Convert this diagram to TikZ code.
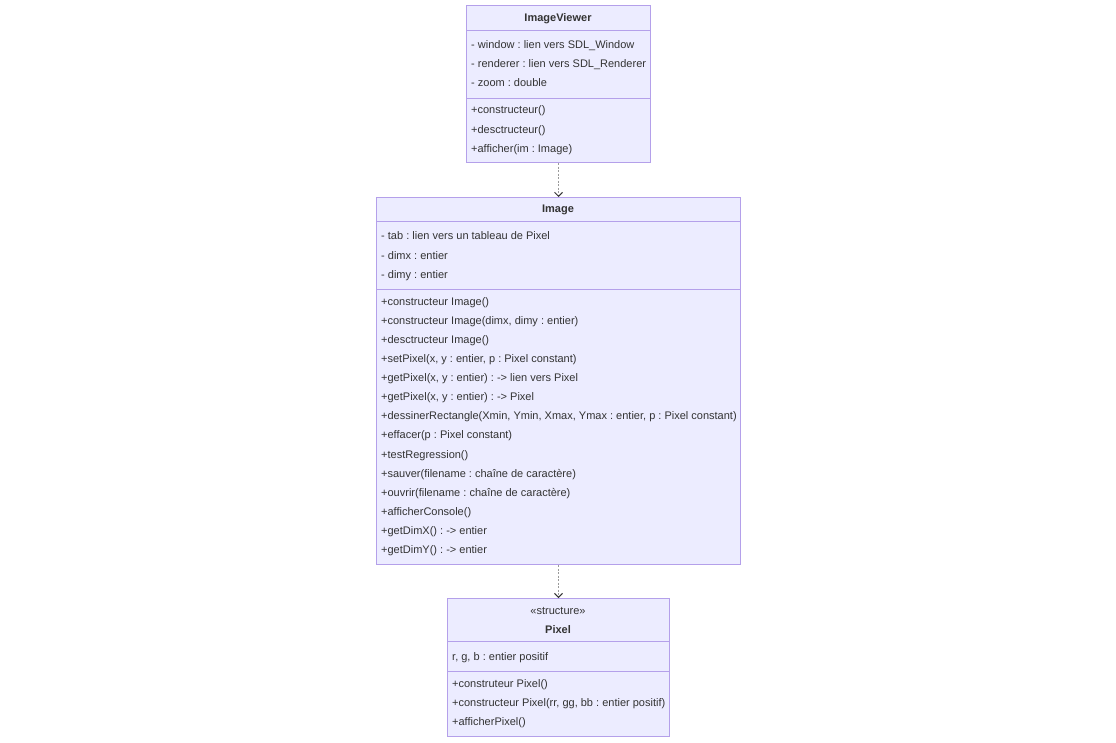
\documentclass[tikz,border=0pt]{standalone}
\usepackage{fontspec}
\setmainfont{Liberation Sans}
\frenchspacing
\usetikzlibrary{arrows.meta}
\definecolor{classfill}{HTML}{ECECFF}
\definecolor{classline}{HTML}{B4A0EA}
\definecolor{txt}{HTML}{333333}
\definecolor{depline}{HTML}{9A9A9A}
\begin{document}
\begin{tikzpicture}[x=1pt,y=-1pt,
  classbox/.style={draw=classline, fill=classfill, line width=1pt, inner sep=0pt, anchor=north west},
  sep/.style={draw=classline, line width=1pt},
  member/.style={anchor=base west, inner sep=0pt, font=\fontsize{11}{13}\selectfont, text=txt},
  title/.style={anchor=base, inner sep=0pt, font=\fontsize{11}{13}\selectfont\bfseries, text=txt},
  stereo/.style={anchor=base, inner sep=0pt, font=\fontsize{11}{13}\selectfont, text=txt},
  dep/.style={draw=depline, line width=1pt, dash pattern=on 2pt off 1.5pt,
    -{Straight Barb[length=4pt,width=8pt,line width=1pt,color=txt]}}]
\useasboundingbox (0,0) rectangle (1116,742);

% ---------- ImageViewer ----------
\node[classbox, minimum width=184pt, minimum height=157pt] (iv) at (466,5) {};
\draw[sep] (iv.west |- 0,30) -- (iv.east |- 0,30);
\draw[sep] (iv.west |- 0,98) -- (iv.east |- 0,98);
\node[title] (ivT) at (558,21) {ImageViewer};
\node[member] (ivA1) at (471,48) {- window : lien vers SDL\_Window};
\node[member] (ivA2) at (471,67) {- renderer : lien vers SDL\_Renderer};
\node[member] (ivA3) at (471,86) {- zoom : double};
\node[member] (ivM1) at (471,113) {+constructeur()};
\node[member] (ivM2) at (471,133) {+desctructeur()};
\node[member] (ivM3) at (471,152) {+afficher(im : Image)};

% ---------- Image ----------
\node[classbox, minimum width=364pt, minimum height=367pt] (img) at (376,197) {};
\draw[sep] (img.west |- 0,221) -- (img.east |- 0,221);
\draw[sep] (img.west |- 0,289) -- (img.east |- 0,289);
\node[title] (imgT) at (558,212) {Image};
\node[member] (imgA1) at (381,239) {- tab : lien vers un tableau de Pixel};
\node[member] (imgA2) at (381,259) {- dimx : entier};
\node[member] (imgA3) at (381,278) {- dimy : entier};
\node[member] (imgM1) at (381,305) {+constructeur Image()};
\node[member] (imgM2) at (381,324) {+constructeur Image(dimx, dimy : entier)};
\node[member] (imgM3) at (381,343) {+desctructeur Image()};
\node[member] (imgM4) at (381,362) {+setPixel(x, y : entier, p : Pixel constant)};
\node[member] (imgM5) at (381,381) {+getPixel(x, y : entier) : -> lien vers Pixel};
\node[member] (imgM6) at (381,400) {+getPixel(x, y : entier) : -> Pixel};
\node[member] (imgM7) at (381,419) {+dessinerRectangle(Xmin, Ymin, Xmax, Ymax : entier, p : Pixel constant)};
\node[member] (imgM8) at (381,438) {+effacer(p : Pixel constant)};
\node[member] (imgM9) at (381,458) {+testRegression()};
\node[member] (imgM10) at (381,477) {+sauver(filename : chaîne de caractère)};
\node[member] (imgM11) at (381,496) {+ouvrir(filename : chaîne de caractère)};
\node[member] (imgM12) at (381,515) {+afficherConsole()};
\node[member] (imgM13) at (381,534) {+getDimX() : -> entier};
\node[member] (imgM14) at (381,553) {+getDimY() : -> entier};

% ---------- Pixel ----------
\node[classbox, minimum width=222pt, minimum height=138pt] (px) at (447,598) {};
\draw[sep] (px.west |- 0,641) -- (px.east |- 0,641);
\draw[sep] (px.west |- 0,671) -- (px.east |- 0,671);
\node[stereo] (pxS) at (558,614) {«structure»};
\node[title] (pxT) at (558,633) {Pixel};
\node[member] (pxA1) at (452,660) {r, g, b : entier positif};
\node[member] (pxM1) at (452,687) {+construteur Pixel()};
\node[member] (pxM2) at (452,706) {+constructeur Pixel(rr, gg, bb : entier positif)};
\node[member] (pxM3) at (452,725) {+afficherPixel()};

% ---------- dependencies ----------
\draw[dep] (iv.south) -- (img.north);
\draw[dep] (img.south) -- (px.north);
\end{tikzpicture}
\end{document}
